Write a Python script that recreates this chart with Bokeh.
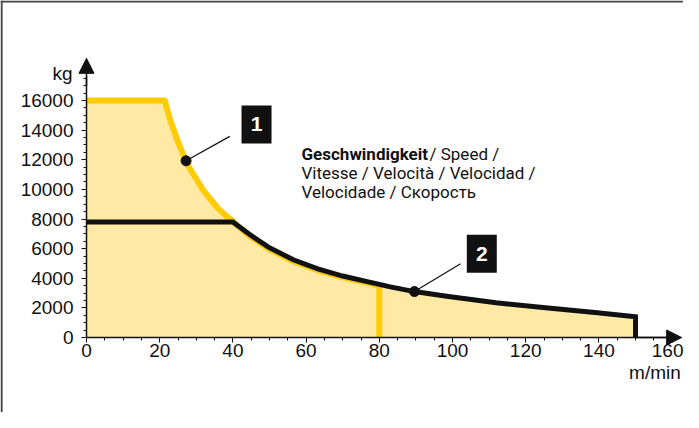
from bokeh.plotting import figure
from bokeh.models import Range1d, Label, Span, Arrow, NormalHead, FixedTicker
from bokeh.core.properties import value
from bokeh.embed import file_html
from bokeh.resources import INLINE

# ---- data ----
speed_yellow = [0, 21.4, 22.0, 23.0, 24.0, 25.0, 26.5, 28.0, 30.0, 32.0, 34.0, 36.0, 38.0, 40.0, 41.0,
                45, 50, 56.5, 63.2, 70, 77, 80, 80]
load_yellow = [16000, 16000, 15400, 14600, 13900, 13200, 12300, 11500, 10700, 9900, 9300, 8700, 8250, 7850, 7600,
               6780, 5960, 5150, 4540, 4060, 3670, 3510, 0]

speed_black = [0, 40, 44.3, 49.7, 56.5, 63.2, 70, 77, 83, 89.6, 98.4, 111.9, 125.4, 138.9, 150, 150]
load_black = [7800, 7800, 7000, 6100, 5250, 4640, 4150, 3760, 3420, 3100, 2790, 2350, 2005, 1690, 1400, 0]

x_ticks = [0, 20, 40, 60, 80, 100, 120, 140, 160]
y_ticks = [0, 2000, 4000, 6000, 8000, 10000, 12000, 14000, 16000]

marker_speed = [27.2, 89.6]
marker_load = [11930, 3100]
callout_text = ["1", "2"]
callout_x = [46.45, 108.0]
callout_y = [14390, 5655]
leader_x0 = [39.15, 102.2]
leader_y0 = [13580, 4980]

text_lines = ["Vitesse / Velocità / Velocidad /", "Velocidade / Скорость"]

YELLOW = "#ffcb05"
FILL = "#fee9a5"
INK = "#111111"

W, H = 683, 412
p = figure(width=W, height=H, output_backend="svg", toolbar_location=None,
           x_range=Range1d(-23.50, 163.11), y_range=Range1d(-5064, 22755),
           min_border=0, min_border_left=0, min_border_right=0,
           min_border_top=0, min_border_bottom=0)
p.outline_line_color = None
p.background_fill_color = "white"
p.border_fill_color = "white"
p.xgrid.visible = False
p.ygrid.visible = False

# fill envelope: yellow curve up to 40 m/min, black curve beyond
env_x = [s for s in speed_yellow[:-1] if s < 40] + speed_black[1:-1]
env_y = [l for s, l in zip(speed_yellow[:-1], load_yellow[:-1]) if s < 40] + load_black[1:-1]
p.varea(x=env_x, y1=[0] * len(env_x), y2=env_y, fill_color=FILL)

p.line(speed_yellow, load_yellow, line_color=YELLOW, line_width=6, line_join="round")
p.line(speed_black, load_black, line_color=INK, line_width=5, line_join="miter")

# axes at the origin
for ax in (p.xaxis, p.yaxis):
    ax.fixed_location = 0
    ax.axis_line_color = INK
    ax.axis_line_width = 1.5
    ax.major_tick_in = 0
    ax.minor_tick_in = 0
    ax.major_tick_out = 5
    ax.minor_tick_out = 3
    ax.major_tick_line_color = INK
    ax.minor_tick_line_color = INK
    ax.major_label_text_font = "Liberation Sans"
    ax.major_label_text_font_size = "19px"
    ax.major_label_text_color = INK
p.xaxis.ticker = FixedTicker(ticks=x_ticks, minor_ticks=[v * 5 for v in range(0, 33)])
p.yaxis.ticker = FixedTicker(ticks=y_ticks, minor_ticks=[v * 500 for v in range(0, 36)])
p.xaxis.bounds = (0, 160.5)
p.yaxis.bounds = (0, 17600)
p.xaxis.major_label_standoff = 1
p.yaxis.major_label_standoff = 8

p.add_layout(Arrow(end=NormalHead(size=15, fill_color=INK, line_color=INK),
                   x_start=0, y_start=17000, x_end=0, y_end=18850,
                   line_color=INK, line_width=1.5))
p.add_layout(Arrow(end=NormalHead(size=15, fill_color=INK, line_color=INK),
                   x_start=150, y_start=0, x_end=162.6, y_end=0,
                   line_color=INK, line_width=1.5))

p.add_layout(Label(x=0, y=17840, x_offset=-14, text="kg", text_align="right",
                   text_baseline="middle", text_font="Liberation Sans",
                   text_font_size="19px", text_color=INK))
p.add_layout(Label(x=155.3, y=-2365, text="m/min", text_align="center",
                   text_baseline="middle", text_font="Liberation Sans",
                   text_font_size="19px", text_color=INK))

# callouts
p.segment(x0=leader_x0, y0=leader_y0, x1=marker_speed, y1=marker_load,
          line_color=INK, line_width=1.2)
p.scatter(marker_speed, marker_load, size=10, fill_color=INK, line_color=INK)
p.rect(x=callout_x, y=callout_y, width=30, height=38, width_units="screen",
       height_units="screen", fill_color=INK, line_color=None)
p.text(x=callout_x, y=callout_y, text=callout_text, text_color="white",
       text_font=value("Liberation Sans"), text_font_style="bold",
       text_font_size="21px", text_align="center", text_baseline="middle")

# speed text block
NARROW = "Roboto"
p.add_layout(Label(x=58.74, y=12412, text="Geschwindigkeit", text_font_style="bold",
                   text_font=NARROW, text_font_size="17px",
                   text_baseline="alphabetic", text_color=INK))
p.add_layout(Label(x=58.74, y=12412, x_offset=128, text="/ Speed /",
                   text_font=NARROW, text_font_size="17px",
                   text_baseline="alphabetic", text_color=INK))
for i, t in enumerate(text_lines):
    p.add_layout(Label(x=58.74, y=11101 - i * 1283, text=t,
                       text_font=NARROW, text_font_size="17px",
                       text_baseline="alphabetic", text_color=INK))

# frame
p.add_layout(Span(location=-23.2, dimension="height", line_color="#444444", line_width=2))
p.add_layout(Span(location=22690, dimension="width", line_color="#444444", line_width=2))

open("out.html", "w").write(file_html(p, INLINE))
